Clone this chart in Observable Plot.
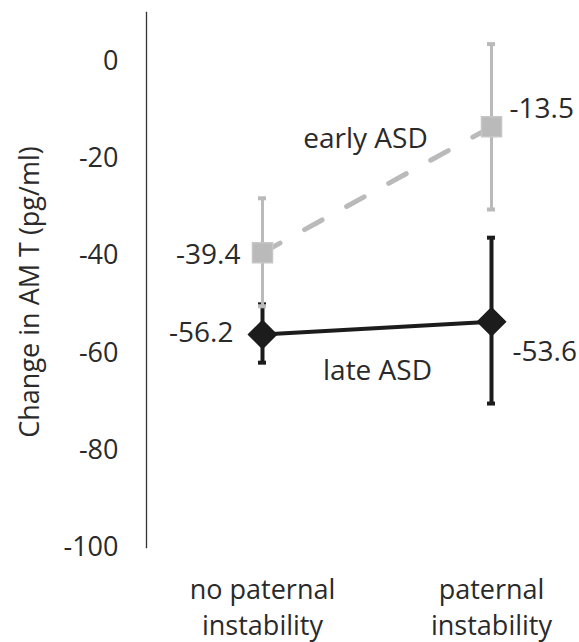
<!DOCTYPE html>
<html>
<head>
<meta charset="utf-8">
<script src="https://cdn.jsdelivr.net/npm/d3@7"></script>
<script src="https://cdn.jsdelivr.net/npm/@observablehq/plot@0.6"></script>
<style>
  html, body { margin: 0; padding: 0; background: #fff; }
  #chart svg { display: block; font-family: "Open Sans", sans-serif; }
</style>
</head>
<body>
<div id="chart"></div>
<script>
// ---- data ----
const categories = ["no paternal instability", "paternal instability"];
const categoryLabels = ["no paternal\ninstability", "paternal\ninstability"];
const series = ["early ASD", "late ASD"];
const earlyMean = [-39.4, -13.5];
const earlyLow = [-50.4, -30.5];
const earlyHigh = [-28.2, 3.5];
const lateMean = [-56.2, -53.6];
const lateLow = [-62.0, -70.4];
const lateHigh = [-50.0, -36.3];
const yTicks = [0, -20, -40, -60, -80, -100];
const yLabel = "Change in AM T (pg/ml)";

const rows = [];
categories.forEach((c, i) => {
  rows.push({cat: c, series: series[0], mean: earlyMean[i], low: earlyLow[i], high: earlyHigh[i], i});
  rows.push({cat: c, series: series[1], mean: lateMean[i], low: lateLow[i], high: lateHigh[i], i});
});
const early = rows.filter(d => d.series === "early ASD");
const late = rows.filter(d => d.series === "late ASD");

const gray = "#bababa";
const dark = "#1c1c1c";
const textColor = "#2a2a2a";
const fs = 27;
const fsl = 28;

const chart = Plot.plot({
  width: 579,
  height: 642,
  marginLeft: 146,
  marginRight: 88,
  marginTop: 12,
  marginBottom: 95,
  insetLeft: 116,
  x: {type: "point", domain: categories, padding: 0},
  y: {domain: [-100, 10]},
  marks: [
    Plot.frame({anchor: "left", stroke: "#333", strokeWidth: 1.3}),
    Plot.axisY({ticks: yTicks, tickFormat: d => String(d), tickSize: 0, tickPadding: 28, fontSize: fs, fill: textColor, label: null}),
    Plot.axisX({tickSize: 0, tickPadding: 27, fontSize: fs, fill: textColor, label: null, lineHeight: 1.3,
      tickFormat: (d) => categoryLabels[categories.indexOf(d)]}),
    Plot.text([yLabel], {frameAnchor: "left", textAnchor: "middle", rotate: -90, dx: -116, dy: 12, fontSize: fs, fill: textColor}),
    // late ASD
    Plot.ruleX(late, {x: "cat", y1: "low", y2: "high", stroke: dark, strokeWidth: 4}),
    Plot.ruleY(late, {x1: "cat", x2: "cat", y: "low", stroke: dark, strokeWidth: 4, insetLeft: -4, insetRight: -4}),
    Plot.ruleY(late, {x1: "cat", x2: "cat", y: "high", stroke: dark, strokeWidth: 4, insetLeft: -4, insetRight: -4}),
    Plot.line(late, {x: "cat", y: "mean", stroke: dark, strokeWidth: 4}),
    Plot.dot(late, {x: "cat", y: "mean", symbol: "diamond2", r: 12.6, fill: dark, stroke: dark}),
    // early ASD
    Plot.ruleX(early, {x: "cat", y1: "low", y2: "high", stroke: gray, strokeWidth: 3}),
    Plot.ruleY(early, {x1: "cat", x2: "cat", y: "low", stroke: gray, strokeWidth: 4, insetLeft: -4, insetRight: -4}),
    Plot.ruleY(early, {x1: "cat", x2: "cat", y: "high", stroke: gray, strokeWidth: 4, insetLeft: -4, insetRight: -4}),
    Plot.line(early, {x: "cat", y: "mean", stroke: gray, strokeWidth: 5, strokeDasharray: "20,28", strokeLinecap: "round"}),
    Plot.dot(early, {x: "cat", y: "mean", symbol: "square", r: 11.3, fill: gray, stroke: "#c6c6c6"}),
    // value labels
    Plot.text(early.filter(d => d.i === 0), {x: "cat", y: "mean", text: d => d.mean.toFixed(1), textAnchor: "end", dx: -22, dy: 2, fontSize: fsl, fill: textColor}),
    Plot.text(early.filter(d => d.i === 1), {x: "cat", y: "mean", text: d => d.mean.toFixed(1), textAnchor: "start", dx: 18, dy: -18, fontSize: fsl, fill: textColor}),
    Plot.text(late.filter(d => d.i === 0), {x: "cat", y: "mean", text: d => d.mean.toFixed(1), textAnchor: "end", dx: -29, dy: -1, fontSize: fsl, fill: textColor}),
    Plot.text(late.filter(d => d.i === 1), {x: "cat", y: "mean", text: d => d.mean.toFixed(1), textAnchor: "start", dx: 21, dy: 30, fontSize: fsl, fill: textColor}),
    // series labels
    Plot.text(early.filter(d => d.i === 1), {x: "cat", y: "mean", text: "series", dx: -126, dy: 12, fontSize: fsl, fill: textColor}),
    Plot.text(late.filter(d => d.i === 1), {x: "cat", y: "mean", text: "series", dx: -114, dy: 49, fontSize: fsl, fill: textColor})
  ]
});
document.getElementById("chart").appendChild(chart);
</script>
</body>
</html>
